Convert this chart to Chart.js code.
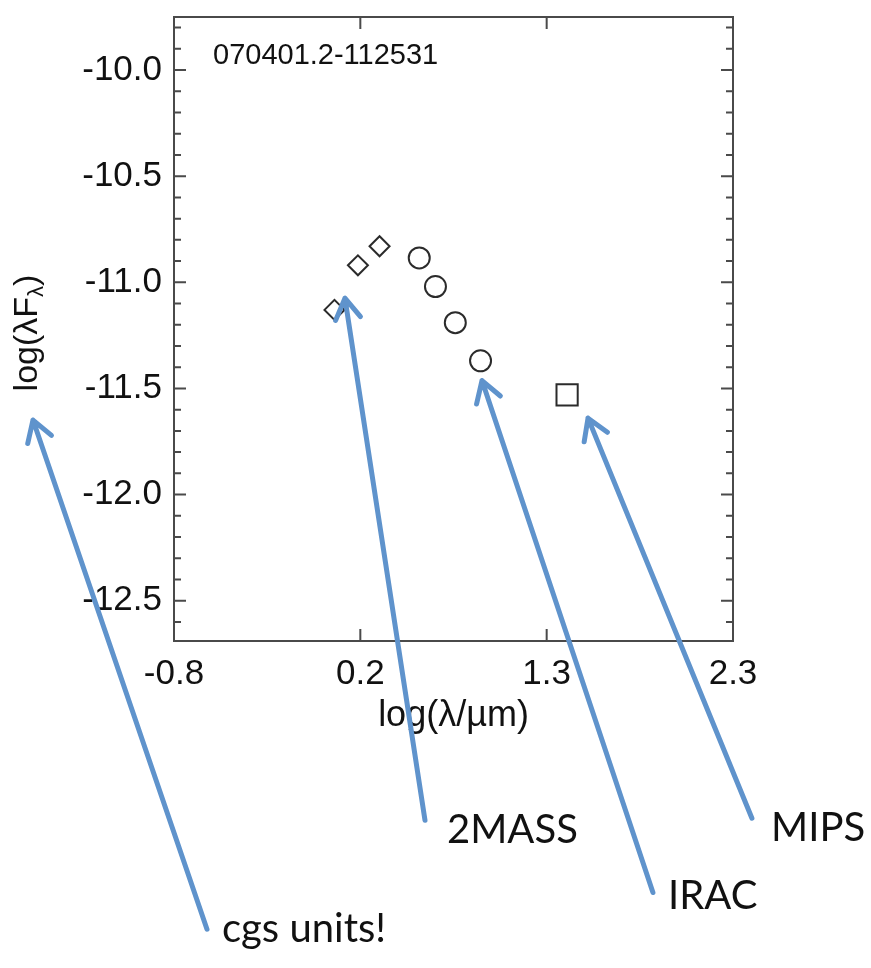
<!DOCTYPE html>
<html><head><meta charset="utf-8">
<script src="https://cdn.jsdelivr.net/npm/chart.js@4/dist/chart.umd.min.js"></script>
<style>html,body{margin:0;padding:0;background:#fff;}#wrap{width:871px;height:968px;position:relative;}</style>
</head><body><div id="wrap"><canvas id="c" width="871" height="968"></canvas></div>
<script>
// ---- data ----
const sourceName = "070401.2-112531";
const xAxisTitle = "log(λ/µm)";
const yTitleMain = "log(λF";
const yTitleSub = "λ";
const yTitleEnd = ")";
const twoMassX = [0.09, 0.22, 0.34];
const twoMassY = [-11.13, -10.92, -10.83];
const iracX = [0.56, 0.65, 0.76, 0.90];
const iracY = [-10.885, -11.02, -11.19, -11.37];
const mipsX = [1.38];
const mipsY = [-11.53];
const xTickValues = [-0.8, 0.2333, 1.2667, 2.3];
const xTickLabels = ["-0.8", "0.2", "1.3", "2.3"];
const yTickValues = [-12.5, -12.0, -11.5, -11.0, -10.5, -10.0];
const yTickLabels = ["-12.5", "-12.0", "-11.5", "-11.0", "-10.5", "-10.0"];
const yMinorTicks = [-12.6, -12.4, -12.3, -12.2, -12.1, -11.9, -11.8, -11.7, -11.6, -11.4, -11.3, -11.2, -11.1,
  -10.9, -10.8, -10.7, -10.6, -10.4, -10.3, -10.2, -10.1, -9.9, -9.8];
// annotation arrows, anchored in data units (tip, tail, label left/baseline)
const noteTexts = ["cgs units!", "2MASS", "IRAC", "MIPS"];
const noteTips = [[-1.582, -11.649], [0.148, -11.075], [0.908, -11.463], [1.496, -11.640]];
const noteTails = [[-0.617, -14.048], [0.592, -13.535], [1.856, -13.875], [2.405, -13.525]];
const noteLabels = [[-0.534, -14.109], [0.714, -13.642], [1.940, -13.955], [2.511, -13.632]];

const toPts = (xs, ys) => xs.map((x, i) => ({x: x, y: ys[i]}));
const INK = '#2b2b2b';
const FRAME = '#4a4a4a';
const ARROW = '#5f93cc';

const framePlugin = {
  id: 'frame',
  beforeDatasetsDraw(chart) {
    const {ctx, chartArea: a, scales: {x, y}} = chart;
    ctx.save();
    ctx.strokeStyle = FRAME;
    ctx.lineWidth = 2;
    ctx.strokeRect(a.left, a.top, a.right - a.left, a.bottom - a.top);
    ctx.beginPath();
    yTickValues.forEach(v => {
      const p = y.getPixelForValue(v);
      ctx.moveTo(a.left, p); ctx.lineTo(a.left + 12, p);
      ctx.moveTo(a.right, p); ctx.lineTo(a.right - 12, p);
    });
    yMinorTicks.forEach(v => {
      const p = y.getPixelForValue(v);
      ctx.moveTo(a.left, p); ctx.lineTo(a.left + 7, p);
      ctx.moveTo(a.right, p); ctx.lineTo(a.right - 7, p);
    });
    xTickValues.forEach(v => {
      const p = x.getPixelForValue(v);
      ctx.moveTo(p, a.bottom); ctx.lineTo(p, a.bottom - 12);
      ctx.moveTo(p, a.top); ctx.lineTo(p, a.top + 12);
    });
    ctx.stroke();
    // source name
    ctx.fillStyle = '#111';
    ctx.font = '29px "Liberation Sans", Arial, sans-serif';
    ctx.textBaseline = 'alphabetic';
    ctx.textAlign = 'left';
    ctx.fillText(sourceName, a.left + 39, a.top + 47);
    // y axis title with subscript
    ctx.translate(37, (a.top + a.bottom) / 2 + 4);
    ctx.rotate(-Math.PI / 2);
    const fMain = '34px "Liberation Sans", Arial, sans-serif';
    const fSub = '22px "Liberation Sans", Arial, sans-serif';
    ctx.font = fMain; const w1 = ctx.measureText(yTitleMain).width;
    ctx.font = fSub; const w2 = ctx.measureText(yTitleSub).width;
    ctx.font = fMain; const w3 = ctx.measureText(yTitleEnd).width;
    let sx = -(w1 + w2 + w3) / 2;
    ctx.font = fMain; ctx.fillText(yTitleMain, sx, 0); sx += w1;
    ctx.font = fSub; ctx.fillText(yTitleSub, sx, 6); sx += w2;
    ctx.font = fMain; ctx.fillText(yTitleEnd, sx, 0);
    ctx.restore();
  },
  afterDraw(chart) {
    const {ctx, scales: {x, y}} = chart;
    ctx.save();
    ctx.strokeStyle = ARROW;
    ctx.lineWidth = 5;
    ctx.lineCap = 'round';
    ctx.lineJoin = 'round';
    noteTexts.forEach((t, i) => {
      const tx = x.getPixelForValue(noteTips[i][0]), ty = y.getPixelForValue(noteTips[i][1]);
      const bx = x.getPixelForValue(noteTails[i][0]), by = y.getPixelForValue(noteTails[i][1]);
      const ang = Math.atan2(ty - by, tx - bx);
      const L = 24, spread = 0.55;
      ctx.beginPath();
      ctx.moveTo(bx, by); ctx.lineTo(tx, ty);
      ctx.moveTo(tx - L * Math.cos(ang - spread), ty - L * Math.sin(ang - spread));
      ctx.lineTo(tx, ty);
      ctx.lineTo(tx - L * Math.cos(ang + spread), ty - L * Math.sin(ang + spread));
      ctx.stroke();
      ctx.fillStyle = '#111';
      ctx.font = '40px Lato, "Open Sans", sans-serif';
      ctx.textAlign = 'left';
      ctx.textBaseline = 'alphabetic';
      ctx.fillText(t, x.getPixelForValue(noteLabels[i][0]), y.getPixelForValue(noteLabels[i][1]));
    });
    ctx.restore();
  }
};

new Chart(document.getElementById('c'), {
  type: 'scatter',
  data: {
    datasets: [
      {label: '2MASS', data: toPts(twoMassX, twoMassY), pointStyle: 'rectRot', pointRadius: 10,
        borderColor: INK, backgroundColor: 'rgba(0,0,0,0)', borderWidth: 2},
      {label: 'IRAC', data: toPts(iracX, iracY), pointStyle: 'circle', pointRadius: 10.5,
        borderColor: INK, backgroundColor: 'rgba(0,0,0,0)', borderWidth: 2},
      {label: 'MIPS', data: toPts(mipsX, mipsY), pointStyle: 'rect', pointRadius: 15,
        borderColor: INK, backgroundColor: 'rgba(0,0,0,0)', borderWidth: 2}
    ]
  },
  options: {
    responsive: false,
    animation: false,
    events: [],
    layout: {padding: {left: 0, right: 138, top: 11, bottom: 230}},
    plugins: {legend: {display: false}, tooltip: {enabled: false}, title: {display: false}},
    scales: {
      x: {
        type: 'linear', min: -0.8, max: 2.3,
        afterBuildTicks: s => { s.ticks = xTickValues.map(v => ({value: v})); },
        afterFit: s => { s.height = 97; s.paddingLeft = 0; s.paddingRight = 0; },
        grid: {display: false, drawTicks: false},
        border: {display: false},
        ticks: {padding: 12, color: '#111', maxRotation: 0, autoSkip: false,
          font: {family: '"Liberation Sans", Arial, sans-serif', size: 35},
          callback: (v, i) => xTickLabels[i]},
        title: {display: true, text: xAxisTitle, color: '#111', padding: 0,
          font: {family: '"Liberation Sans", Arial, sans-serif', size: 36}}
      },
      y: {
        type: 'linear', min: -12.69, max: -9.75,
        afterBuildTicks: s => { s.ticks = yTickValues.map(v => ({value: v})); },
        afterFit: s => { s.width = 174; s.paddingTop = 0; s.paddingBottom = 0; },
        grid: {display: false, drawTicks: false},
        border: {display: false},
        ticks: {padding: 12, color: '#111', autoSkip: false,
          font: {family: '"Liberation Sans", Arial, sans-serif', size: 35},
          callback: (v, i) => yTickLabels[i]}
      }
    }
  },
  plugins: [framePlugin]
});
</script></body></html>
